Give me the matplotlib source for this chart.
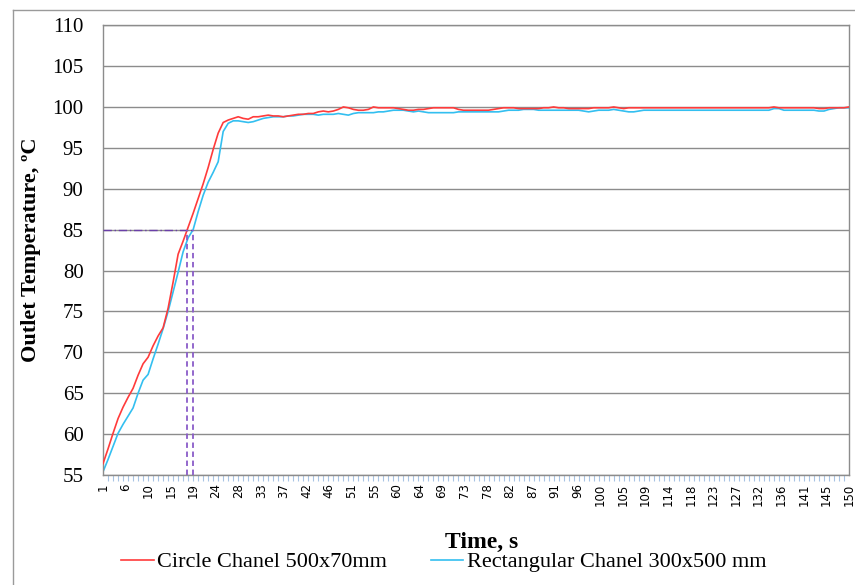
import numpy as np
import matplotlib
matplotlib.use("Agg")
import matplotlib.pyplot as plt
from matplotlib.lines import Line2D

# time steps, s
time = list(range(1, 151))

# Circle Chanel 500x70mm, outlet temperature
circle = [
    56.4, 58.2, 60.1, 61.9, 63.3, 64.5, 65.6, 67.2, 68.6, 69.4,
    70.8, 72.0, 73.0, 75.4, 78.6, 82.0, 83.6, 85.3, 87.0, 88.8,
    90.6, 92.6, 94.8, 96.8, 98.1, 98.4, 98.6, 98.8, 98.6, 98.5,
    98.8, 98.8, 98.9, 99.0, 98.9, 98.9, 98.8, 98.9, 99.0, 99.1,
    99.1, 99.2, 99.2, 99.4, 99.5, 99.4, 99.5, 99.7, 100.0, 99.9,
    99.7, 99.6, 99.6, 99.7, 100.0, 99.9, 99.9, 99.9, 99.9, 99.8,
    99.7, 99.6, 99.6, 99.7, 99.7, 99.8, 99.9, 99.9, 99.9, 99.9,
    99.9, 99.7, 99.6, 99.6, 99.6, 99.6, 99.6, 99.6, 99.7, 99.8,
    99.9, 99.9, 99.9, 99.8, 99.8, 99.8, 99.8, 99.8, 99.9, 99.9,
    100.0, 99.9, 99.9, 99.8, 99.8, 99.8, 99.8, 99.8, 99.9, 99.9,
    99.9, 99.9, 100.0, 99.9, 99.8, 99.9, 99.9, 99.9, 99.9, 99.9,
    99.9, 99.9, 99.9, 99.9, 99.9, 99.9, 99.9, 99.9, 99.9, 99.9,
    99.9, 99.9, 99.9, 99.9, 99.9, 99.9, 99.9, 99.9, 99.9, 99.9,
    99.9, 99.9, 99.9, 99.9, 100.0, 99.9, 99.9, 99.9, 99.9, 99.9,
    99.9, 99.9, 99.9, 99.8, 99.8, 99.9, 99.9, 99.9, 99.9, 100.0,
]

# Rectangular Chanel 300x500 mm, outlet temperature
rect = [
    55.4, 56.9, 58.5, 60.1, 61.2, 62.2, 63.2, 65.0, 66.6, 67.3,
    69.2, 71.0, 72.9, 75.0, 77.4, 79.8, 82.3, 84.0, 85.0, 87.2,
    89.2, 90.8, 92.0, 93.3, 97.0, 98.0, 98.3, 98.3, 98.2, 98.1,
    98.2, 98.4, 98.6, 98.7, 98.8, 98.8, 98.8, 98.9, 98.9, 99.0,
    99.1, 99.1, 99.1, 99.0, 99.1, 99.1, 99.1, 99.2, 99.1, 99.0,
    99.2, 99.3, 99.3, 99.3, 99.3, 99.4, 99.4, 99.5, 99.6, 99.6,
    99.6, 99.5, 99.4, 99.5, 99.4, 99.3, 99.3, 99.3, 99.3, 99.3,
    99.3, 99.4, 99.4, 99.4, 99.4, 99.4, 99.4, 99.4, 99.4, 99.4,
    99.5, 99.6, 99.6, 99.6, 99.7, 99.7, 99.7, 99.6, 99.6, 99.6,
    99.6, 99.6, 99.6, 99.6, 99.6, 99.6, 99.5, 99.4, 99.5, 99.6,
    99.6, 99.6, 99.7, 99.6, 99.5, 99.4, 99.4, 99.5, 99.6, 99.6,
    99.6, 99.6, 99.6, 99.6, 99.6, 99.6, 99.6, 99.6, 99.6, 99.6,
    99.6, 99.6, 99.6, 99.6, 99.6, 99.6, 99.6, 99.6, 99.6, 99.6,
    99.6, 99.6, 99.6, 99.6, 99.8, 99.8, 99.6, 99.6, 99.6, 99.6,
    99.6, 99.6, 99.6, 99.5, 99.5, 99.7, 99.8, 99.9, 99.9, 99.9,
]

# category labels as shown on the time axis
xlabels = ["1", "6", "10", "15", "19", "24", "28", "33", "37", "42", "46",
           "51", "55", "60", "64", "69", "73", "78", "82", "87", "91", "96",
           "100", "105", "109", "114", "118", "123", "127", "132", "136",
           "141", "145", "150"]

# 85 degC marker lines
mark_temp = 85
mark_times = [17.8, 19.0]

serif = "Liberation Serif"

fig = plt.figure(figsize=(8.55, 5.85), dpi=100)
ax = fig.add_axes([0.1205, 0.188, 0.8725, 0.769])

ax.plot(time, circle, color="#ff3b3b", lw=1.2, label="Circle Chanel 500x70mm", zorder=3)
ax.plot(time, rect, color="#33bff0", lw=1.2, label="Rectangular Chanel 300x500 mm", zorder=2)

# dashed guides at 85
ax.plot([1, mark_times[1]], [mark_temp, mark_temp], color="#6a3fa8", lw=1.0,
        ls=(0, (6, 2, 1, 2)), zorder=4)
for t in mark_times:
    ax.plot([t, t], [55, mark_temp], color="#8a5cc8", lw=1.3, ls=(0, (3, 2)), zorder=4)

ax.set_xlim(1, 150)
ax.set_ylim(55, 110)
ax.set_yticks(np.arange(55, 111, 5))
ax.yaxis.grid(True, color="#8c8c8c", lw=1.0)
ax.set_axisbelow(True)
ax.tick_params(axis="y", length=0, pad=14)
for lbl in ax.get_yticklabels():
    lbl.set_fontfamily(serif)
    lbl.set_fontsize(15)

ax.set_xticks(np.linspace(1, 150, len(xlabels)))
ax.set_xticklabels(xlabels, rotation=90, fontsize=8.5, family="DejaVu Sans")
ax.set_xticks(time, minor=True)
ax.tick_params(axis="x", which="major", length=0, pad=6)
ax.tick_params(axis="x", which="minor", length=4, color="#a8c4e4", width=0.8)

for s in ["left", "right", "bottom", "top"]:
    ax.spines[s].set_color("#8c8c8c")
    ax.spines[s].set_linewidth(1.0)

ax.set_ylabel("Outlet Temperature, ºC", family=serif, fontsize=16,
              fontweight="bold")
ax.yaxis.set_label_coords(-0.083, 0.5)
fig.text(0.563, 0.073, "Time, s", family=serif, fontsize=17, fontweight="bold",
         ha="center", va="center")

fig.legend(loc="center", bbox_to_anchor=(0.519, 0.039), ncol=2, frameon=False,
           prop={"family": serif, "size": 16}, handlelength=1.45,
           handletextpad=0.15, columnspacing=2.0)

# outer chart border
fig.add_artist(Line2D([13 / 855, 13 / 855], [0, 1 - 10 / 585], color="#9a9a9a", lw=1.0))
fig.add_artist(Line2D([13 / 855, 1], [1 - 10 / 585, 1 - 10 / 585], color="#9a9a9a", lw=1.0))

fig.savefig("out.png", dpi=100)
